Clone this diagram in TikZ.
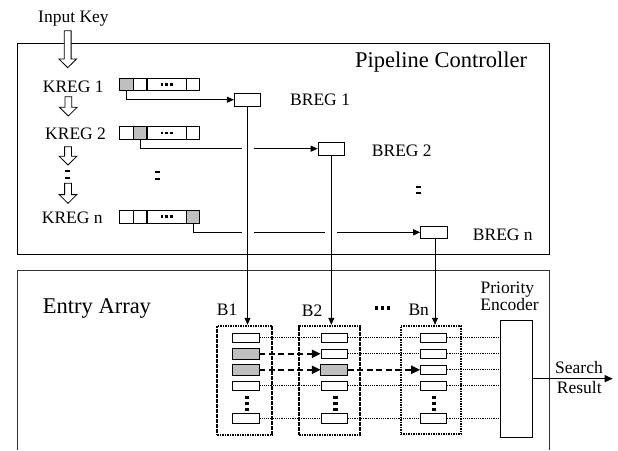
\documentclass[tikz,border=0pt]{standalone}
\usepackage{fontspec}
\setmainfont{Liberation Serif}
\usetikzlibrary{arrows.meta,calc}

% hollow downward arrow: x, top of shaft, tip
\newcommand\hollowdown[3]{%
  \draw[fill=white, line width=0.8]
    (#1-3.4,#2) -- (#1+3.4,#2) -- (#1+3.4,#3-8.7) -- (#1+8.8,#3-8.7)
    -- (#1,#3) -- (#1-8.8,#3-8.7) -- (#1-3.4,#3-8.7) -- cycle;}

\tikzset{
  lbl/.style={font=\fontsize{17.5}{17.5}\selectfont, inner sep=0, anchor=base west},
  ttl/.style={font=\fontsize{22.5}{22.5}\selectfont, inner sep=0, anchor=base west},
  cell/.style={draw, line width=0.8, minimum height=12.4, inner sep=0, anchor=west},
  hit/.style={fill=black!25},
  breg/.style={draw, line width=0.8, minimum width=26.4, minimum height=12.7, inner sep=0},
  entry/.style={draw, line width=0.8, minimum width=26.3, minimum height=9.5, inner sep=0},
  bank/.style={draw, line width=1.8, dash pattern=on 1.6 off 0.9, inner sep=0},
  wire/.style={line width=0.8},
  feed/.style={wire, -{Triangle[length=7,width=6]}},
  probe/.style={line width=1.1, dash pattern=on 1.2 off 1},
  carry/.style={line width=2.2, dash pattern=on 6 off 3.5, -{Triangle[length=9,width=8]}},
  hdots/.pic={\fill (-6,-1.3) rectangle (-3.4,1.3);
              \fill (-1.3,-1.3) rectangle (1.3,1.3);
              \fill (3.4,-1.3) rectangle (6,1.3);},
  bigdots/.pic={\fill (-7.5,-1.7) rectangle (-4.2,1.7);
                \fill (-1.65,-1.7) rectangle (1.65,1.7);
                \fill (4.2,-1.7) rectangle (7.5,1.7);},
  vdots/.pic={\fill (-2.4,-4.2) rectangle (2.4,-2.2);
              \fill (-2.4,2.2) rectangle (2.4,4.2);},
  vdotsiii/.pic={\fill (-2.2,-7.2) rectangle (2.2,-4.8);
                 \fill (-2.2,-1.2) rectangle (2.2,1.2);
                 \fill (-2.2,4.8) rectangle (2.2,7.2);},
}

\begin{document}
\begin{tikzpicture}[x=1pt,y=-1pt]
\useasboundingbox (0,0) rectangle (618,450);

% ---------------- pipeline controller ----------------
\node[draw, line width=0.9, minimum width=532, minimum height=211, inner sep=0]
  (pipe) at (283,148.5) {};
\node[ttl] (pctl) at (355,67) {Pipeline Controller};

\node[lbl] (inkey) at (38,22.7) {Input Key};
\hollowdown{67.7}{30.7}{67.7}

% key registers
\node[lbl] (kr1) at (42.7,92.7) {KREG 1};
\node[lbl] (kr2) at (45,139.3) {KREG 2};
\node[lbl] (krn) at (41.7,223.3) {KREG n};

\hollowdown{68.3}{96.7}{116}
\hollowdown{68}{146.7}{165}
\hollowdown{68}{183.3}{203.3}
\pic at (67.5,174.5) {vdots};
\pic at (157.5,175.5) {vdots};

\node[cell, hit, minimum width=13.2] (k1a) at (119.3,84.5) {};
\node[cell, minimum width=12.5] (k1b) at (k1a.east) {};
\node[cell, minimum width=39] (k1c) at (k1b.east) {};
\node[cell, minimum width=12.7] (k1d) at (k1c.east) {};
\pic at (k1c) {hdots};

\node[cell, minimum width=13.2] (k2a) at (119.3,132.8) {};
\node[cell, hit, minimum width=12.5] (k2b) at (k2a.east) {};
\node[cell, minimum width=39] (k2c) at (k2b.east) {};
\node[cell, minimum width=12.7] (k2d) at (k2c.east) {};
\pic at (k2c) {hdots};

\node[cell, minimum width=13.2] (kna) at (119.3,216.7) {};
\node[cell, minimum width=12.5] (knb) at (kna.east) {};
\node[cell, minimum width=39] (knc) at (knb.east) {};
\node[cell, hit, minimum width=12.7] (knd) at (knc.east) {};
\pic at (knc) {hdots};

% bank registers
\node[breg] (b1) at (247.5,99.7) {};
\node[breg] (b2) at (331.3,148.7) {};
\node[breg] (bn) at (433.8,232.3) {};
\node[lbl] (br1) at (290,105) {BREG 1};
\node[lbl] (br2) at (371.7,156.7) {BREG 2};
\node[lbl] (brn) at (472.7,240) {BREG n};
\pic at (418.5,190) {vdots};

% key bit select -> bank register
\draw[feed] (k1a.south) |- (b1.west);
\draw[wire] (k2b.south) |- ([xshift=-6]b1.south |- b2.west);
\draw[feed] ([xshift=6]b1.south |- b2.west) -- (b2.west);
\draw[wire] (knd.south) |- ([xshift=-6]b1.south |- bn.west);
\draw[wire] ([xshift=6]b1.south |- bn.west) -- ([xshift=-6]b2.south |- bn.west);
\draw[feed] ([xshift=6]b2.south |- bn.west) -- (bn.west);

% ---------------- entry array ----------------
\draw[line width=1, black!80] (17,450) -- (17,270) -- (549,270) -- (549,450);
\node[ttl] (earr) at (42.7,313.3) {Entry Array};

\node[bank, minimum width=55, minimum height=109.3] (bk1) at (244.8,380.35) {};
\node[bank, minimum width=61, minimum height=109.3] (bk2) at (329.8,380.35) {};
\node[bank, minimum width=60.3, minimum height=108.6] (bkn) at (430.85,380) {};
\node[lbl] (lb1) at (216.7,315) {B1};
\node[lbl] (lb2) at (301.7,316.7) {B2};
\node[lbl] (lbn) at (408.3,315) {Bn};
\pic at (382.5,308) {bigdots};

% bank register -> bank
\draw[feed] (b1.south) -- (b1.south |- bk1.north);
\draw[feed] (b2.south) -- (b2.south |- bk2.north);
\draw[feed] ([xshift=1.2]bn.south) -- ([xshift=1.2]bn.south |- bkn.north);

% entries
\foreach \r/\y in {1/337.8, 2/353.8, 3/369.8, 4/385.8, 5/418.3} {
  \node[entry] (e1\r) at (245.8,\y) {};
  \node[entry] (e2\r) at (334.3,\y) {};
  \node[entry] (en\r) at (433.7,\y) {};
}
\fill[black!25] (e12.south west) rectangle (e12.north east);
\fill[black!25] (e13.south west) rectangle (e13.north east);
\fill[black!25] (e23.south west) rectangle (e23.north east);
\foreach \n in {e12,e13,e23} \draw[line width=0.8] (\n.south west) rectangle (\n.north east);
\pic at (247,403.3) {vdotsiii};
\pic at (335.3,403.3) {vdotsiii};
\pic at (433.7,403.3) {vdotsiii};

% priority encoder
\node[draw, line width=0.8, minimum width=32.7, minimum height=117.3, inner sep=0]
  (pe) at (516.35,378.65) {};
\node[lbl, anchor=base] (pe1) at (507.4,293.3) {Priority};
\node[lbl, anchor=base] (pe2) at (509.5,310.7) {Encoder};

% match lines
\foreach \r in {1,4,5} \draw[probe] (e1\r.east) -- (e2\r.west);
\foreach \r in {1,2,4,5} \draw[probe] (e2\r.east) -- (en\r.west);
\foreach \r in {1,...,5} \draw[probe] (en\r.east) -- (pe.west |- en\r.east);
\draw[carry] (e12.east) -- (e22.west);
\draw[carry] (e13.east) -- (e23.west);
\draw[carry] (e23.east) -- (en3.west);

% search result
\coordinate (out) at (612.7,378.65);
\draw[wire, -{Triangle[length=8,width=7]}] (pe.east) -- (out);
\node[lbl] (sr1) at (555,373.3) {Search};
\node[lbl] (sr2) at (556.7,393.3) {Result};
\end{tikzpicture}
\end{document}
